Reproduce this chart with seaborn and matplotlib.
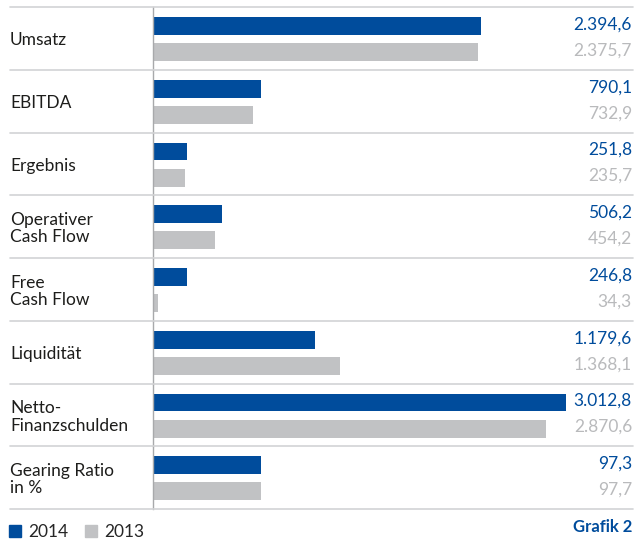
import matplotlib
matplotlib.use("Agg")
import matplotlib.pyplot as plt
from matplotlib.lines import Line2D
from matplotlib.patches import Patch
from matplotlib import transforms
import pandas as pd
import seaborn as sns

# Kennzahlen in Mio. EUR (Gearing Ratio in %)
categories = ["Umsatz", "EBITDA", "Ergebnis", "Operativer\nCash Flow", "Free\nCash Flow",
              "Liquidität", "Netto-\nFinanzschulden", "Gearing Ratio\nin %"]
values_2014 = [2394.6, 790.1, 251.8, 506.2, 246.8, 1179.6, 3012.8, 97.3]
values_2013 = [2375.7, 732.9, 235.7, 454.2, 34.3, 1368.1, 2870.6, 97.7]
years = ["2014", "2013"]

BLUE = "#004c9c"
GRAY = "#c1c2c4"
GRAY_TEXT = "#b9babc"
LINE = "#d2d3d5"
AXIS = "#a8a9ab"

sns.set_theme(style="white")
plt.rcParams["font.family"] = ["Lato", "DejaVu Sans"]

W, H = 634, 540
fig = plt.figure(figsize=(W / 100, H / 100), dpi=100)

top_px, bottom_px = 7, 509
row_h = (bottom_px - top_px) / len(categories)
left_px, right_px = 153, 578

# same euro scale for all amounts; the percentage row gets its own scale
xmax_eur = 3102
xmax_pct = 383


def fmt(v):
    s = f"{v:,.1f}"
    return s.replace(",", "X").replace(".", ",").replace("X", ".")


for i, cat in enumerate(categories):
    y0 = top_px + i * row_h
    ax = fig.add_axes([left_px / W, 1 - (y0 + row_h) / H, (right_px - left_px) / W, row_h / H])
    df = pd.DataFrame({"Jahr": years, "Wert": [values_2014[i], values_2013[i]]})
    sns.barplot(data=df, x="Wert", y="Jahr", hue="Jahr", order=years, hue_order=years,
                palette=[BLUE, GRAY], saturation=1, width=0.69, linewidth=0,
                legend=False, orient="h", ax=ax)
    ax.set_xlim(0, xmax_pct if i == len(categories) - 1 else xmax_eur)
    ax.set_ylim(1.68, -0.73)
    ax.set_xlabel("")
    ax.set_ylabel("")
    ax.set_xticks([])
    ax.set_yticks([])
    for side in ("top", "right", "bottom"):
        ax.spines[side].set_visible(False)
    ax.spines["left"].set_color(AXIS)
    ax.spines["left"].set_linewidth(1.0)
    ax.patch.set_alpha(0)

    # category label on the left
    fig.text(10 / W, 1 - (y0 + row_h / 2 + 2) / H, cat, ha="left", va="center",
             fontsize=12.5, color="#1d1d1b", linespacing=1.12)

    # value labels on the right
    tr = transforms.blended_transform_factory(fig.transFigure, ax.transData)
    ax.text(632 / W, -0.06, fmt(values_2014[i]), transform=tr, ha="right", va="center",
            fontsize=12.5, color=BLUE)
    ax.text(632 / W, 0.94, fmt(values_2013[i]), transform=tr, ha="right", va="center",
            fontsize=12.5, color=GRAY_TEXT)

# horizontal separators
for k in range(len(categories) + 1):
    yy = 1 - (top_px + k * row_h) / H
    fig.add_artist(Line2D([10 / W, 633 / W], [yy, yy], transform=fig.transFigure,
                          color=LINE, linewidth=1.2))

fig.legend(handles=[Patch(color=BLUE, label="2014"), Patch(color=GRAY, label="2013")],
           loc="center left", bbox_to_anchor=(9 / W, 1 - 532 / H), ncol=2, frameon=False,
           handlelength=0.68, handleheight=0.68, handletextpad=0.4, columnspacing=1.0,
           fontsize=12.5, borderpad=0, borderaxespad=0)

fig.text(632 / W, 1 - 527 / H, "Grafik 2", ha="right", va="center", fontsize=12,
         fontweight="bold", color=BLUE)

fig.savefig("out.png", dpi=100)
